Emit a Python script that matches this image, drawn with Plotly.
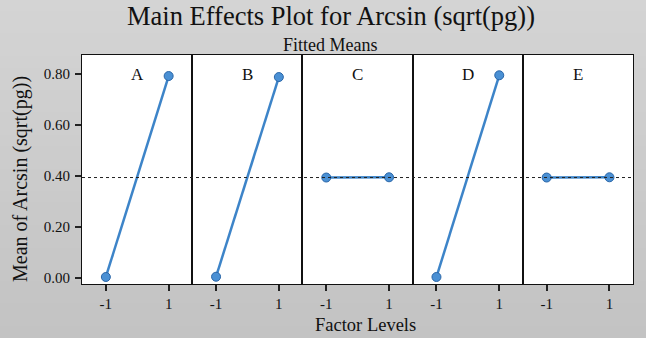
import plotly.graph_objects as go
from plotly.subplots import make_subplots

factors = ["A", "B", "C", "D", "E"]
levels = [-1, 1]
level_labels = ["-1", "1"]
means_A = [0.004, 0.792]
means_B = [0.005, 0.788]
means_C = [0.394, 0.395]
means_D = [0.004, 0.795]
means_E = [0.394, 0.395]
grand_mean = 0.394
y_ticks = [0.0, 0.2, 0.4, 0.6, 0.8]

series = [means_A, means_B, means_C, means_D, means_E]

W, H = 646, 338
ml, mr, mt, mb = 82, 13, 55, 54
pw = W - ml - mr
ph = H - mt - mb

fig = make_subplots(rows=1, cols=5, shared_yaxes=True, horizontal_spacing=0)

line_col = "#3d84c8"
for i, (name, vals) in enumerate(zip(factors, series)):
    fig.add_trace(go.Scatter(
        x=levels, y=vals, mode="lines+markers",
        line=dict(color=line_col, width=2.5),
        marker=dict(size=9, color="#4a90d4", line=dict(color="#2a66a8", width=1)),
        showlegend=False, hoverinfo="skip"), row=1, col=i + 1)

font_family = "Liberation Serif, Times New Roman, serif"
for i in range(5):
    ax = "xaxis" if i == 0 else f"xaxis{i+1}"
    fig.layout[ax].update(
        range=[-1.76, 1.75], tickvals=levels, ticktext=level_labels,
        ticks="outside", ticklen=6, tickwidth=2, tickcolor="#222",
        showline=True, linecolor="#111", linewidth=1, mirror=True,
        showgrid=False, zeroline=False, automargin=False,
        tickfont=dict(family=font_family, size=15, color="#111"))
    fig.add_annotation(text=factors[i], xref=f"x{'' if i == 0 else i+1} domain",
                       yref="paper", x=0.5, y=1 - 8 / ph,
                       yanchor="top", showarrow=False,
                       font=dict(family=font_family, size=17, color="#111"))

fig.update_yaxes(range=[-0.0235, 0.8745], tickvals=y_ticks, tickformat=".2f",
                 ticks="", showline=True, linecolor="#111", linewidth=1, mirror=True,
                 showgrid=False, zeroline=False, automargin=False,
                 tickfont=dict(family=font_family, size=15, color="#111"))
fig.update_yaxes(ticks="outside", ticklen=6, tickwidth=2, tickcolor="#222",
                 ticklabelstandoff=2, row=1, col=1)

# background gradient
shapes = []
n = 30
x0p, x1p = -ml / pw, 1 + mr / pw
y0p, y1p = -mb / ph, 1 + mt / ph
for k in range(n):
    t = k / (n - 1)
    c = int(round(0xd4 - (0xd4 - 0xc3) * t))
    ya = y1p - (y1p - y0p) * k / n
    yb = y1p - (y1p - y0p) * (k + 1) / n
    shapes.append(dict(type="rect", xref="paper", yref="paper", x0=x0p, x1=x1p,
                       y0=yb - 0.002, y1=ya + 0.002, layer="below",
                       fillcolor=f"rgb({c},{c},{c})", line=dict(width=0)))
shapes.append(dict(type="rect", xref="paper", yref="paper", x0=0, x1=1, y0=0, y1=1,
                   layer="below", fillcolor="white", line=dict(width=0)))
shapes.append(dict(type="line", xref="paper", yref="y", x0=0, x1=1,
                   y0=grand_mean, y1=grand_mean, layer="above",
                   line=dict(color="#222", width=1, dash="dot")))
fig.update_layout(shapes=shapes)

def px_to_paper_x(px):
    return (px - ml) / pw

def px_to_paper_y(py):
    return 1 - (py - mt) / ph

fig.add_annotation(text="Main Effects Plot for Arcsin (sqrt(pg))", xref="paper", yref="paper",
                   x=px_to_paper_x(331), y=px_to_paper_y(-1), yanchor="top", showarrow=False,
                   font=dict(family=font_family, size=26.5, color="#111"))
fig.add_annotation(text="Fitted Means", xref="paper", yref="paper",
                   x=px_to_paper_x(330), y=px_to_paper_y(33), yanchor="top", showarrow=False,
                   font=dict(family=font_family, size=18, color="#111"))
fig.add_annotation(text="Factor Levels", xref="paper", yref="paper",
                   x=px_to_paper_x(365), y=px_to_paper_y(313),
                   yanchor="top", showarrow=False,
                   font=dict(family=font_family, size=18.5, color="#111"))
fig.add_annotation(text="Mean of Arcsin (sqrt(pg))", xref="paper", yref="paper",
                   x=px_to_paper_x(20), y=px_to_paper_y(179), textangle=-90,
                   xanchor="center", yanchor="middle", showarrow=False,
                   font=dict(family=font_family, size=20, color="#111"))

fig.update_layout(width=W, height=H, margin=dict(l=ml, r=mr, t=mt, b=mb),
                  paper_bgcolor="#cccccc", plot_bgcolor="white", template="none")

fig.write_html("out.html", config={"displayModeBar": False},
               post_script="document.body.style.margin='0';document.body.style.padding='0';document.body.style.overflow='hidden';")
